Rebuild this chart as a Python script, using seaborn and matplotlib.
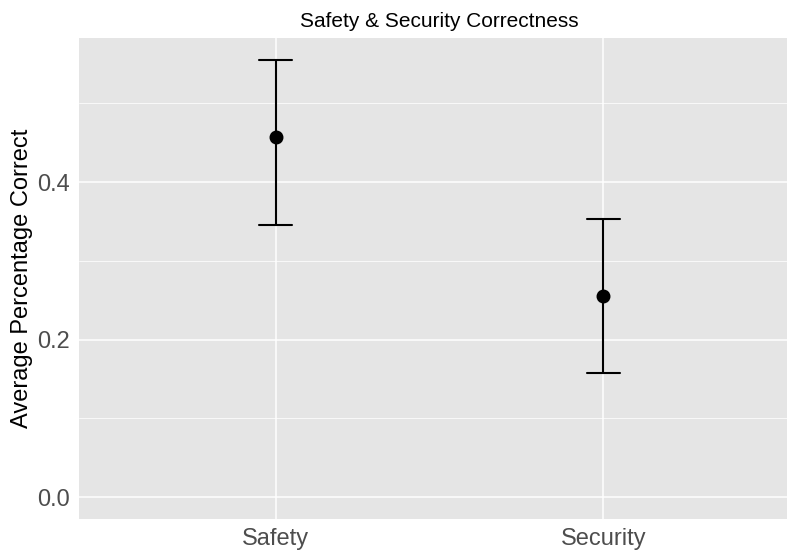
import numpy as np
import pandas as pd
import seaborn as sns
import matplotlib
matplotlib.use("Agg")
import matplotlib.pyplot as plt
from matplotlib.ticker import MultipleLocator

# data
categories = ["Safety", "Security"]
means = [0.457, 0.256]
lower = [0.345, 0.158]
upper = [0.555, 0.353]

# long table: median of (lower, mean, upper) is the mean, min/max are the bounds
rows = []
for cat, lo, mid, hi in zip(categories, lower, means, upper):
    for v in (lo, mid, hi):
        rows.append({"type": cat, "value": v})
df = pd.DataFrame(rows)

sns.set_theme(style="darkgrid")
plt.rcParams["font.family"] = ["Liberation Sans", "DejaVu Sans"]

fig = plt.figure(figsize=(7.87, 5.5), dpi=100)
# panel runs a bit past the right edge, like the reference crop
ax = fig.add_axes([79 / 787, 31 / 550, 721 / 787, 481 / 550])
ax.set_facecolor("#E5E5E5")

sns.pointplot(data=df, x="type", y="value", estimator="median",
              errorbar=("pi", 100), capsize=0.1, color="black",
              linestyle="none", markers="o", markersize=8,
              err_kws={"linewidth": 1.5}, ax=ax)

ax.set_xlim(-0.6, 1.6)
ax.set_ylim(-0.0278, 0.583)
ax.yaxis.set_major_locator(MultipleLocator(0.2))
ax.yaxis.set_minor_locator(MultipleLocator(0.1))
ax.set_yticks([0.0, 0.2, 0.4])
ax.set_yticklabels(["0.0", "0.2", "0.4"])

ax.grid(which="major", color="white", linewidth=1.1)
ax.grid(which="minor", axis="y", color="white", linewidth=0.55)
ax.set_axisbelow(True)
for s in ax.spines.values():
    s.set_visible(False)

ax.tick_params(axis="both", which="major", length=3.5, width=0.8, color="#333333",
               labelsize=17, labelcolor="#4D4D4D", pad=3)
ax.tick_params(axis="y", which="minor", length=0)

ax.set_xlabel("")
ax.set_ylabel("Average Percentage Correct", fontsize=17, color="black", labelpad=3)
ax.set_title("Safety & Security Correctness", fontsize=15, color="black", pad=8)

fig.savefig("out.png", dpi=100)
